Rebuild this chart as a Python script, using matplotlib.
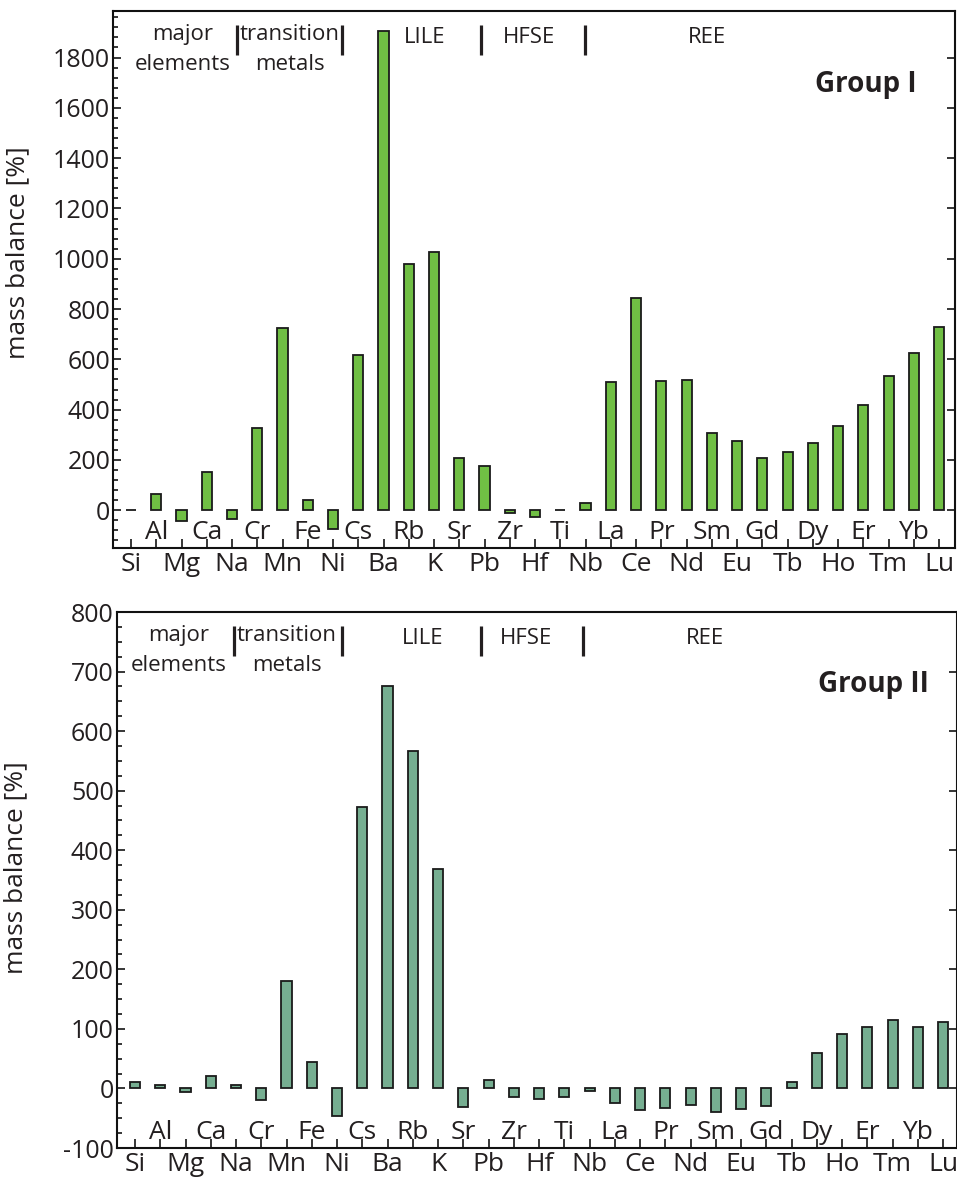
import numpy as np
import matplotlib.pyplot as plt
from matplotlib.ticker import MultipleLocator

plt.rcParams['font.family'] = ['Open Sans', 'DejaVu Sans']
plt.rcParams['axes.unicode_minus'] = False

elements = ['Si', 'Al', 'Mg', 'Ca', 'Na', 'Cr', 'Mn', 'Fe', 'Ni', 'Cs', 'Ba',
	'Rb', 'K', 'Sr', 'Pb', 'Zr', 'Hf', 'Ti', 'Nb', 'La', 'Ce', 'Pr', 'Nd',
	'Sm', 'Eu', 'Gd', 'Tb', 'Dy', 'Ho', 'Er', 'Tm', 'Yb', 'Lu']

# mass balance [%] per element
group1 = [2, 66, -42, 152, -36, 327, 726, 39, -75, 618, 1906,
	978, 1025, 208, 177, -10, -25, 3, 30, 510, 845, 514, 517,
	307, 276, 209, 230, 267, 335, 418, 533, 626, 729]
group2 = [10, 6, -6, 21, 5, -19, 180, 45, -46, 472, 676,
	566, 368, -31, 14, -14, -17, -14, -5, -25, -36, -33, -28,
	-39, -35, -30, 10, 60, 92, 103, 115, 103, 111]

groups = ['Group I', 'Group II']
headers = ['major\nelements', 'transition\nmetals', 'LILE', 'HFSE', 'REE']

ink = '#231f20'


def drawPanel(ax, values, colour, title, ylim, major, minor, xlim, head_x, bar_x, title_x, label_pos):
	x = np.arange(len(elements))
	ax.bar(x, values, width=0.4, color=colour, edgecolor='#1a1a1a', linewidth=1.3, zorder=3)
	ax.set_xlim(*xlim)
	ax.set_ylim(*ylim)

	for side in ax.spines.values():
		side.set_linewidth(1.5)
		side.set_color('#111111')

	ax.yaxis.set_major_locator(MultipleLocator(major))
	ax.yaxis.set_minor_locator(MultipleLocator(minor))
	ax.set_xticks(x)
	ax.set_xticklabels([e if i % 2 == 0 else '' for i, e in enumerate(elements)])
	ax.tick_params(axis='x', direction='in', length=6.5, width=1.1, pad=3,
		labelsize=19, labelcolor=ink)
	ax.tick_params(axis='y', which='major', direction='in', left=True, right=True,
		length=6, width=1.1, pad=2, labelsize=18, labelcolor=ink)
	ax.tick_params(axis='y', which='minor', direction='in', left=True, right=False,
		length=3.5, width=1.1)

	# every other element name sits inside the frame
	for i, e in enumerate(elements):
		if i % 2 == 1:
			ax.text(i, 0.017, e, transform=ax.get_xaxis_transform(), ha='center',
				va='baseline', fontsize=19, color=ink)

	for name, hx in zip(headers, head_x):
		lines = name.split('\n')
		if len(lines) == 2:
			ax.text(hx, 0.957, lines[0], transform=ax.transAxes, ha='center', va='center', fontsize=16, color=ink)
			ax.text(hx, 0.901, lines[1], transform=ax.transAxes, ha='center', va='center', fontsize=16, color=ink)
		else:
			ax.text(hx, 0.950, name, transform=ax.transAxes, ha='center', va='center', fontsize=16, color=ink)
	for bx in bar_x:
		ax.plot([bx, bx], [0.918, 0.974], transform=ax.transAxes, color=ink, lw=2.3,
			solid_capstyle='butt')

	ax.text(title_x, 0.864, title, transform=ax.transAxes, ha='center', va='center',
		fontsize=20, fontweight='bold', color=ink)

	ax.set_ylabel('mass balance [%]', fontsize=19, color=ink)
	ax.yaxis.set_label_coords(*label_pos)


fig = plt.figure(figsize=(9.57, 11.8), dpi=100)
ax1 = fig.add_axes([113 / 957, (1180 - 548) / 1180, 842.5 / 957, 537 / 1180])
ax2 = fig.add_axes([116.5 / 957, (1180 - 1148) / 1180, 840 / 957, 536 / 1180])

drawPanel(ax1, group1, '#70bf44', groups[0], (-150, 1985), 200, 40, (-0.713, 32.65),
	[0.0825, 0.210, 0.370, 0.494, 0.705], [0.147, 0.272, 0.437, 0.560], 0.893, (-0.098, 0.55))
drawPanel(ax2, group2, '#76ae91', groups[1], (-100, 800), 100, 25, (-0.733, 32.53),
	[0.074, 0.203, 0.365, 0.488, 0.700], [0.140, 0.268, 0.434, 0.555], 0.901, (-0.105, 0.524))

fig.savefig('out.png', dpi=100)
